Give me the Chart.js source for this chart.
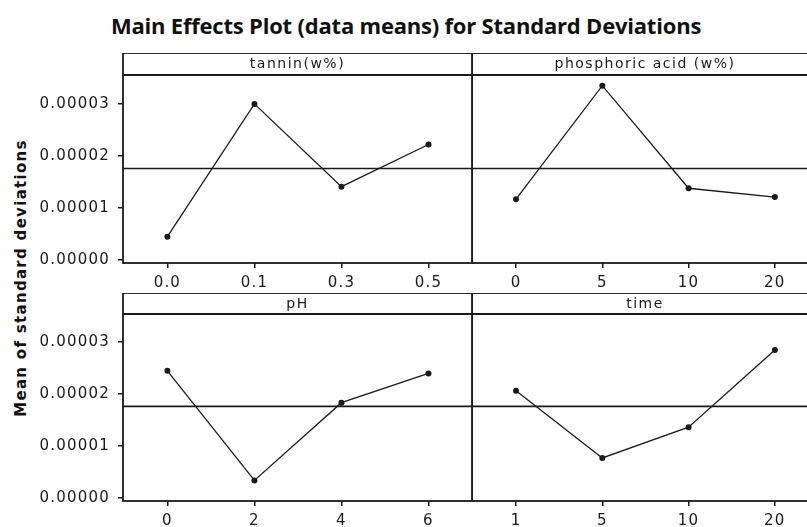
<!DOCTYPE html>
<html>
<head>
<meta charset="utf-8">
<script src="https://cdn.jsdelivr.net/npm/chart.js@4.4.1/dist/chart.umd.min.js"></script>
<style>
  html, body { margin:0; padding:0; background:#fff; overflow:hidden; width:807px; height:527px; }
  #wrap { position:relative; width:807px; height:527px; overflow:hidden; }
  .panel { position:absolute; }
  #title { position:absolute; left:0; width:812px; top:10px; height:30px; line-height:30px; text-align:center;
           font-family:"Open Sans", sans-serif; font-weight:700; font-size:22px; color:#111; letter-spacing:-0.2px; }
  #ytitle { position:absolute; left:21px; top:278px; transform:translate(-50%,-50%) rotate(-90deg); white-space:nowrap;
            font-family:"DejaVu Sans", sans-serif; font-weight:bold; font-size:15px; letter-spacing:1.3px; color:#111; }
</style>
</head>
<body>
<div id="wrap">
  <div id="title">Main Effects Plot (data means) for Standard Deviations</div>
  <div id="ytitle">Mean of standard deviations</div>
  <div class="panel" style="left:0px;top:53px;"><canvas id="c1" width="473" height="240"></canvas></div>
  <div class="panel" style="left:472px;top:53px;"><canvas id="c2" width="347" height="240"></canvas></div>
  <div class="panel" style="left:0px;top:293px;"><canvas id="c3" width="473" height="234"></canvas></div>
  <div class="panel" style="left:472px;top:293px;"><canvas id="c4" width="347" height="234"></canvas></div>
</div>
<script>
// ---- data ----
const tanninLabels = ["0.0", "0.1", "0.3", "0.5"];
const tanninMeans = [0.0000045, 0.0000300, 0.0000141, 0.0000222];
const phosphoricLabels = ["0", "5", "10", "20"];
const phosphoricMeans = [0.0000117, 0.0000335, 0.0000138, 0.0000121];
const phLabels = ["0", "2", "4", "6"];
const phMeans = [0.0000244, 0.0000034, 0.0000183, 0.0000239];
const timeLabels = ["1", "5", "10", "20"];
const timeMeans = [0.0000206, 0.0000077, 0.0000136, 0.0000284];
const grandMean = 0.0000176;
const yTicks = [0, 0.00001, 0.00002, 0.00003];
const panelTitles = ["tannin(w%)", "phosphoric acid (w%)", "pH", "time"];

const INK = '#1a1a1a';

const stripPlugin = {
  id: 'strip',
  beforeUpdate(chart) { chart.ctx.letterSpacing = '1.2px'; },
  beforeDraw(chart) { chart.ctx.letterSpacing = '1.2px'; },
  afterDraw(chart, args, opts) {
    const {ctx, chartArea:a} = chart;
    const h = opts.height;
    ctx.save();
    ctx.strokeStyle = INK;
    ctx.lineWidth = 1.8;
    ctx.strokeRect(a.left, a.top - h, a.right - a.left, a.bottom - a.top + h);
    ctx.beginPath();
    ctx.moveTo(a.left, a.top);
    ctx.lineTo(a.right, a.top);
    ctx.stroke();
    ctx.fillStyle = INK;
    ctx.font = '14px "DejaVu Sans", sans-serif';
    ctx.letterSpacing = '1.5px';
    ctx.textAlign = 'center';
    ctx.textBaseline = 'middle';
    ctx.fillText(opts.text, (a.left + a.right) / 2, a.top - h / 2 + 0.5);
    ctx.restore();
  }
};

function makePanel(id, labels, values, title, showY, stripH, xHeight, yMax) {
  const pts = values.map((v, i) => ({x: i, y: v}));
  return new Chart(document.getElementById(id), {
    type: 'line',
    data: {
      datasets: [
        { data: pts, borderColor: INK, borderWidth: 1.3, pointRadius: 3, pointBackgroundColor: INK,
          pointBorderColor: INK, pointBorderWidth: 0, tension: 0 },
        { data: [{x: -0.6, y: grandMean}, {x: 3.6, y: grandMean}], borderColor: INK, borderWidth: 1.6,
          pointRadius: 0, tension: 0 }
      ]
    },
    options: {
      responsive: false,
      animation: false,
      events: [],
      layout: { autoPadding: false, padding: { top: stripH, right: 1, left: 0, bottom: 0 } },
      plugins: {
        legend: { display: false },
        tooltip: { enabled: false },
        strip: { text: title, height: stripH }
      },
      scales: {
        x: {
          type: 'linear', min: -0.51, max: 3.5,
          afterBuildTicks: s => { s.ticks = [0, 1, 2, 3].map(v => ({value: v})); },
          afterFit: s => { s.height = xHeight; },
          ticks: { callback: v => labels[v], color: INK, padding: 6, maxRotation: 0,
                   font: { family: '"DejaVu Sans", sans-serif', size: 15 } },
          grid: { drawOnChartArea: false, drawTicks: true, tickLength: 5, color: INK, lineWidth: 1.5 },
          border: { display: false }
        },
        y: {
          display: showY,
          min: -0.00000055, max: yMax,
          afterBuildTicks: s => { s.ticks = yTicks.map(v => ({value: v})); },
          afterFit: s => { s.width = showY ? 123 : 0; },
          ticks: { callback: v => v.toFixed(5), color: INK, padding: 8,
                   font: { family: '"DejaVu Sans", sans-serif', size: 15 } },
          grid: { drawOnChartArea: false, drawTicks: true, tickLength: 5, color: INK, lineWidth: 1.5 },
          border: { display: false }
        }
      }
    },
    plugins: [stripPlugin]
  });
}

makePanel('c1', tanninLabels, tanninMeans, panelTitles[0], true, 22, 30, 0.00003555);
makePanel('c2', phosphoricLabels, phosphoricMeans, panelTitles[1], false, 22, 30, 0.00003555);
makePanel('c3', phLabels, phMeans, panelTitles[2], true, 21, 26, 0.0000353);
makePanel('c4', timeLabels, timeMeans, panelTitles[3], false, 21, 26, 0.0000353);
</script>
</body>
</html>
